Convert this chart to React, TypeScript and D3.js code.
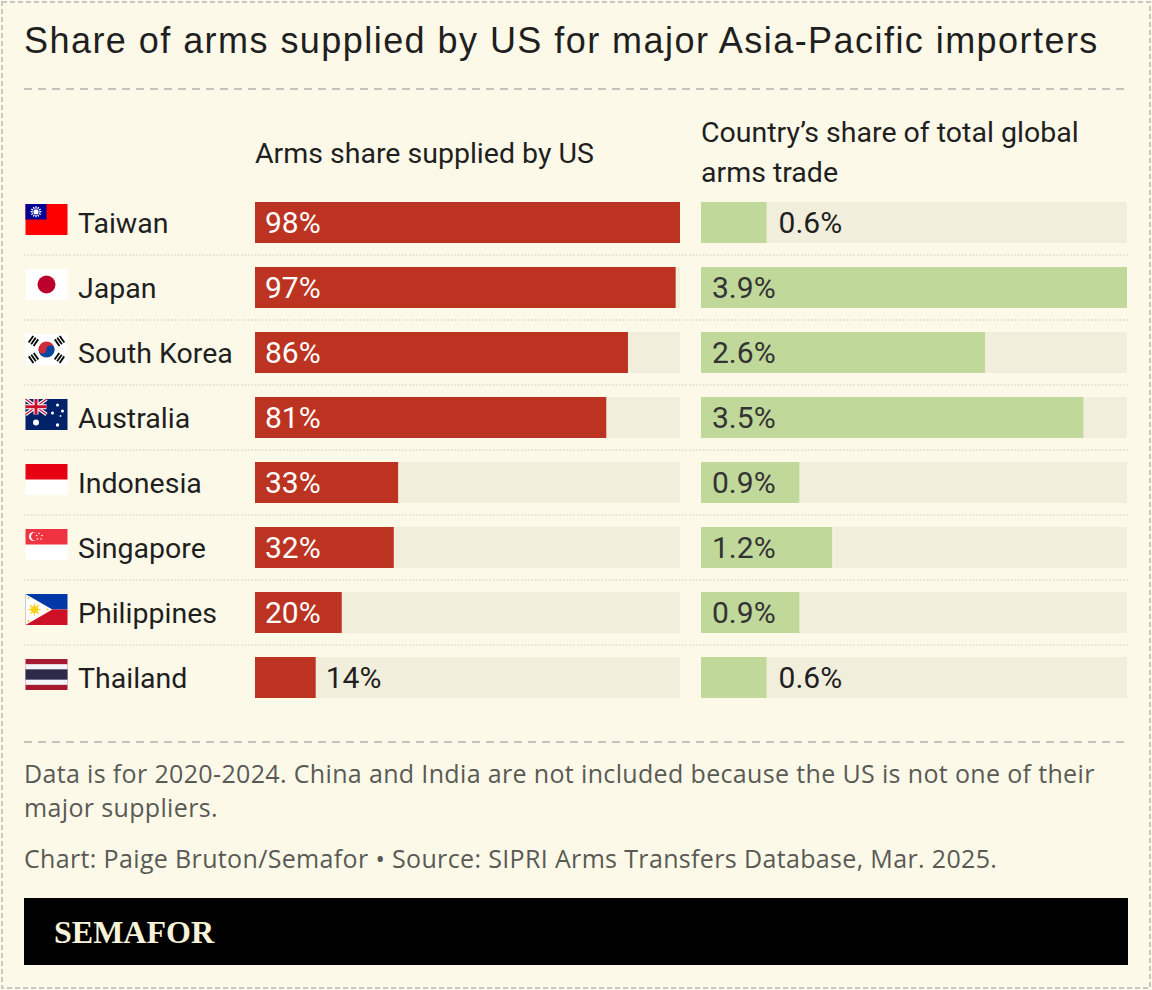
import React from 'react';
import { scaleBand, scaleLinear, max } from 'd3';

const countries = ['Taiwan', 'Japan', 'South Korea', 'Australia', 'Indonesia', 'Singapore', 'Philippines', 'Thailand'];
const usShare = [98, 97, 86, 81, 33, 32, 20, 14];
const globalShare = [0.6, 3.9, 2.6, 3.5, 0.9, 1.2, 0.9, 0.6];

const TITLE = 'Share of arms supplied by US for major Asia-Pacific importers';
const HEAD_LEFT = 'Arms share supplied by US';
const HEAD_RIGHT = ['Country’s share of total global', 'arms trade'];
const NOTE = ['Data is for 2020-2024. China and India are not included because the US is not one of their', 'major suppliers.'];
const SOURCE = 'Chart: Paige Bruton/Semafor • Source: SIPRI Arms Transfers Database, Mar. 2025.';

const W = 1152;
const H = 990;
const BG = '#fcf9e8';
const TRACK = '#f1eedc';
const RED = '#bd3322';
const GREEN = '#c1d89b';
const INK = '#1f1f1f';
const FONT = 'Roboto, "Noto Sans", sans-serif';
const NOTE_FONT = '"Open Sans", Roboto, sans-serif';

// flag drawings, 42x31, origin top-left
const Flag = ({ name }: { name: string }) => {
  const w = 42, h = 31;
  switch (name) {
    case 'Taiwan':
      return (
        <g>
          <rect width={w} height={h} fill="#fe0000" />
          <rect width={w / 2} height={h / 2} fill="#000095" />
          {Array.from({ length: 12 }, (_, i) => {
            const a = (i * Math.PI) / 6;
            return <line key={i} x1={w / 4} y1={h / 4} x2={w / 4 + 5.5 * Math.cos(a)} y2={h / 4 + 5.5 * Math.sin(a)} stroke="#fff" strokeWidth={1.3} />;
          })}
          <circle cx={w / 4} cy={h / 4} r={3.2} fill="#000095" />
          <circle cx={w / 4} cy={h / 4} r={2.6} fill="#fff" />
        </g>
      );
    case 'Japan':
      return (
        <g>
          <rect width={w} height={h} fill="#fff" />
          <circle cx={w / 2} cy={h / 2} r={9} fill="#bc002d" />
        </g>
      );
    case 'South Korea': {
      const cx = w / 2, cy = h / 2, r = 8;
      const tri = (x: number, y: number, a: number) => (
        <g transform={`translate(${x},${y}) rotate(${a})`}>
          {[-3, 0, 3].map(d => <rect key={d} x={-4} y={d - 1} width={8} height={1.8} fill="#000" />)}
        </g>
      );
      return (
        <g>
          <rect width={w} height={h} fill="#fff" />
          <path d={`M${cx - r},${cy} A${r},${r} 0 0 1 ${cx + r},${cy} Z`} fill="#cd2e3a" />
          <path d={`M${cx - r},${cy} A${r},${r} 0 0 0 ${cx + r},${cy} Z`} fill="#0047a0" />
          <circle cx={cx - r / 2} cy={cy} r={r / 2} fill="#cd2e3a" />
          <circle cx={cx + r / 2} cy={cy} r={r / 2} fill="#0047a0" />
          {tri(8, 7, -55)}
          {tri(34, 7, 55)}
          {tri(8, 24, 55)}
          {tri(34, 24, -55)}
        </g>
      );
    }
    case 'Australia':
      return (
        <g>
          <rect width={w} height={h} fill="#012169" />
          <g>
            <path d="M0,0 L21,15.5 M21,0 L0,15.5" stroke="#fff" strokeWidth={3.5} />
            <path d="M0,0 L21,15.5 M21,0 L0,15.5" stroke="#c8102e" strokeWidth={1.2} />
            <path d="M10.5,0 V15.5 M0,7.75 H21" stroke="#fff" strokeWidth={5} />
            <path d="M10.5,0 V15.5 M0,7.75 H21" stroke="#c8102e" strokeWidth={3} />
          </g>
          <circle cx={10.5} cy={23.5} r={3} fill="#fff" />
          <circle cx={32} cy={6} r={1.5} fill="#fff" />
          <circle cx={27} cy={14} r={1.5} fill="#fff" />
          <circle cx={37} cy={12} r={1.5} fill="#fff" />
          <circle cx={32} cy={26} r={1.7} fill="#fff" />
          <circle cx={35} cy={17} r={0.9} fill="#fff" />
        </g>
      );
    case 'Indonesia':
      return (
        <g>
          <rect width={w} height={h} fill="#fff" />
          <rect width={w} height={h / 2} fill="#e70011" />
        </g>
      );
    case 'Singapore':
      return (
        <g>
          <rect width={w} height={h} fill="#fff" />
          <rect width={w} height={h / 2} fill="#ef3340" />
          <circle cx={8} cy={7.5} r={4.5} fill="#fff" />
          <circle cx={9.8} cy={7.5} r={4.2} fill="#ef3340" />
          {[[12, 4.5], [15, 6.5], [14, 10], [10.5, 10], [9.6, 6.5]].map(([x, y], i) => (
            <circle key={i} cx={x + 1.5} cy={y} r={0.8} fill="#fff" />
          ))}
        </g>
      );
    case 'Philippines':
      return (
        <g>
          <rect width={w} height={h / 2} fill="#0038a8" />
          <rect y={h / 2} width={w} height={h / 2} fill="#ce1126" />
          <path d={`M0,0 L${h * 0.866},${h / 2} L0,${h} Z`} fill="#fff" />
          <circle cx={9} cy={h / 2} r={3.5} fill="#fcd116" />
          {Array.from({ length: 8 }, (_, i) => {
            const a = (i * Math.PI) / 4;
            return <line key={i} x1={9} y1={h / 2} x2={9 + 6 * Math.cos(a)} y2={h / 2 + 6 * Math.sin(a)} stroke="#fcd116" strokeWidth={1.2} />;
          })}
          <circle cx={3} cy={4} r={1} fill="#fcd116" />
          <circle cx={3} cy={27} r={1} fill="#fcd116" />
          <circle cx={22} cy={h / 2} r={1} fill="#fcd116" />
        </g>
      );
    case 'Thailand':
      return (
        <g>
          <rect width={w} height={h} fill="#a51931" />
          <rect y={h / 6} width={w} height={(h * 4) / 6} fill="#f4f5f8" />
          <rect y={h / 3} width={w} height={h / 3} fill="#2d2a4a" />
        </g>
      );
    default:
      return null;
  }
};

const App = () => {
  const xLeft = scaleLinear().domain([0, max(usShare) || 0]).range([255, 680]);
  const xRight = scaleLinear().domain([0, max(globalShare) || 0]).range([701, 1127]);
  const y = scaleBand<string>()
    .domain(countries)
    .range([190, 710])
    .paddingInner(24 / 65)
    .paddingOuter(12 / 65);
  const bh = y.bandwidth();
  const step = y.step();

  // bars narrower than this get their label outside
  const labelMin = 72;

  return (
    <svg width={W} height={H} style={{ display: 'block', fontFamily: FONT }}>
      <style>{'body{margin:0}'}</style>
      <rect x={0} y={0} width={W} height={H} fill={BG} />
      <rect x={2} y={2} width={W - 4} height={H - 4} fill="none" stroke="#c8c8c4" strokeWidth={2} strokeDasharray="5 3" />

      <text x={24} y={53} fontFamily='"Liberation Sans", Arial, sans-serif' fontSize={36} letterSpacing={1.45} fill={INK}>
        {TITLE}
      </text>
      <line x1={24} x2={1128} y1={89} y2={89} stroke="#c4c4bf" strokeWidth={2} strokeDasharray="8 6" />

      <text x={255} y={163} fontSize={28.5} fill={INK}>{HEAD_LEFT}</text>
      {HEAD_RIGHT.map((t, i) => (
        <text key={t} x={701} y={142 + i * 40} fontSize={28.5} fill={INK}>{t}</text>
      ))}

      {countries.map((c, i) => {
        const top = y(c)!;
        const lw = xLeft(usShare[i]) - xLeft(0);
        const rw = xRight(globalShare[i]) - xRight(0);
        const base = top + 31;
        const lIn = lw >= labelMin;
        const rIn = rw >= labelMin;
        return (
          <g key={c}>
            <g transform={`translate(25.5,${top + 2})`}>
              <Flag name={c} />
            </g>
            <text x={78} y={base} fontSize={28.5} fill={INK}>{c}</text>

            <rect x={xLeft(0)} y={top} width={xLeft.range()[1] - xLeft(0)} height={bh} fill={TRACK} />
            <rect x={xLeft(0)} y={top} width={lw} height={bh} fill={RED} />
            <text x={lIn ? xLeft(0) + 10 : xLeft(usShare[i]) + 10} y={base} fontSize={30} fill={lIn ? '#fff' : INK}>
              {usShare[i]}%
            </text>

            <rect x={xRight(0)} y={top} width={xRight.range()[1] - xRight(0)} height={bh} fill={TRACK} />
            <rect x={xRight(0)} y={top} width={rw} height={bh} fill={GREEN} />
            <text x={rIn ? xRight(0) + 11 : xRight(globalShare[i]) + 12} y={base} fontSize={30} fill={rIn ? '#333' : INK}>
              {globalShare[i].toFixed(1)}%
            </text>

            {i < countries.length - 1 && (
              <line x1={24} x2={1128} y1={top + bh + (step - bh) / 2} y2={top + bh + (step - bh) / 2}
                stroke="#c9c9c2" strokeWidth={1.2} strokeDasharray="1.5 2" />
            )}
          </g>
        );
      })}

      <line x1={24} x2={1128} y1={742} y2={742} stroke="#c4c4bf" strokeWidth={2} strokeDasharray="8 6" />
      <g fontFamily={NOTE_FONT} fontSize={25} letterSpacing={0.35} fill="#5a5a55">
        {NOTE.map((t, i) => (
          <text key={i} x={24} y={783 + i * 34}>{t}</text>
        ))}
        <text x={24} y={868}>{SOURCE}</text>
      </g>

      <rect x={24} y={898} width={1104} height={67} fill="#000" />
      <text x={54} y={943} fontFamily='"Liberation Serif", "Times New Roman", serif' fontWeight="bold" fontSize={32} fill="#f7f2d8">
        SEMAFOR
      </text>
    </svg>
  );
};

export default App;
